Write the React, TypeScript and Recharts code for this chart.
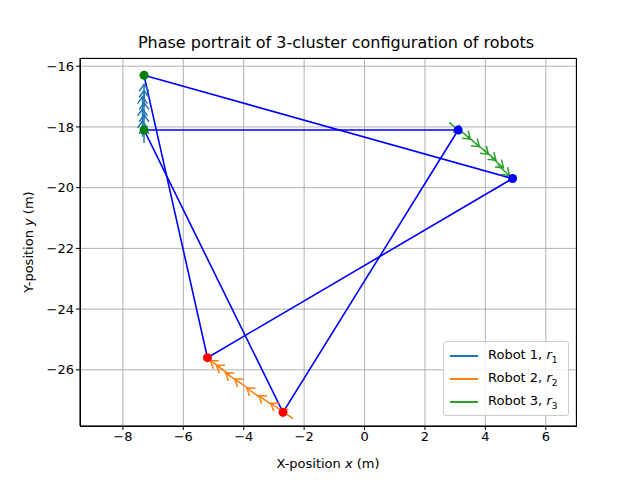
import React from 'react';
import { ComposedChart, Scatter, XAxis, YAxis, CartesianGrid } from 'recharts';

const triangleA = [
  { x: -7.3, y: -16.3 }, { x: 4.9, y: -19.7 }, { x: -5.2, y: -25.6 }, { x: -7.3, y: -16.3 },
];
const triangleB = [
  { x: -7.3, y: -18.1 }, { x: 3.1, y: -18.1 }, { x: -2.7, y: -27.4 }, { x: -7.3, y: -18.1 },
];
const robot1Arrows = [
  { x: -7.3, y: -18.0 }, { x: -7.35, y: -17.8 }, { x: -7.3, y: -17.6 }, { x: -7.35, y: -17.4 },
  { x: -7.3, y: -17.2 }, { x: -7.35, y: -17.0 }, { x: -7.3, y: -16.8 }, { x: -7.3, y: -16.6 },
];
const robot2Arrows = [
  { x: -2.8, y: -27.3 }, { x: -3.1, y: -27.1 }, { x: -3.5, y: -26.85 }, { x: -3.9, y: -26.6 },
  { x: -4.3, y: -26.3 }, { x: -4.6, y: -26.1 }, { x: -4.9, y: -25.85 }, { x: -5.1, y: -25.7 },
];
const robot3Arrows = [
  { x: 3.2, y: -18.2 }, { x: 3.5, y: -18.4 }, { x: 3.8, y: -18.65 }, { x: 4.1, y: -18.9 },
  { x: 4.35, y: -19.1 }, { x: 4.6, y: -19.35 }, { x: 4.8, y: -19.6 },
];
const robot1Dir = [0, 1];
const robot2Dir = [-0.81, 0.58];
const robot3Dir = [0.75, -0.66];
const greenPts = [{ x: -7.3, y: -16.3 }, { x: -7.3, y: -18.1 }];
const redPts = [{ x: -5.2, y: -25.6 }, { x: -2.7, y: -27.4 }];
const bluePts = [{ x: 4.9, y: -19.7 }, { x: 3.1, y: -18.1 }];
const xTicks = [-8, -6, -4, -2, 0, 2, 4, 6];
const yTicks = [-26, -24, -22, -20, -18, -16];

const makeArrow = (color: string, dir: number[]) => (props: any) => {
  const { cx, cy } = props;
  const dx = dir[0], dy = -dir[1];
  const len = 16, head = 7;
  const bx = cx - dx * len, by = cy - dy * len;
  const px = -dy, py = dx;
  const h1x = cx - dx * head + px * head * 0.7, h1y = cy - dy * head + py * head * 0.7;
  const h2x = cx - dx * head - px * head * 0.7, h2y = cy - dy * head - py * head * 0.7;
  return (
    <g stroke={color} strokeWidth={1.5} fill="none">
      <line x1={bx} y1={by} x2={cx} y2={cy} />
      <polyline points={`${h1x},${h1y} ${cx},${cy} ${h2x},${h2y}`} />
    </g>
  );
};

const dot = (color: string) => (props: any) => <circle cx={props.cx} cy={props.cy} r={4.5} fill={color} />;

const legendItems = [
  { color: '#1f77b4', label: 'Robot 1, ', sub: '1' },
  { color: '#ff7f0e', label: 'Robot 2, ', sub: '2' },
  { color: '#2ca02c', label: 'Robot 3, ', sub: '3' },
];

const LegendBox = () => (
  <div style={{ position: 'absolute', left: 443, top: 341, width: 112, border: '1px solid #ccc', borderRadius: 3, background: 'rgba(255,255,255,0.85)', padding: '2px 6px', fontSize: 13, fontFamily: 'DejaVu Sans' }}>
    {legendItems.map((it) => (
      <div key={it.sub} style={{ display: 'flex', alignItems: 'center', height: 23 }}>
        <div style={{ width: 28, height: 2, background: it.color, marginRight: 10 }} />
        <span style={{ whiteSpace: 'nowrap' }}>{it.label}<i>r</i><sub style={{ fontSize: 9 }}>{it.sub}</sub></span>
      </div>
    ))}
  </div>
);

export default function App() {
  const font = { fontFamily: 'DejaVu Sans', fontSize: 13, fill: '#000' };
  return (
    <div style={{ position: 'absolute', left: 0, top: 0, width: 640, height: 480, background: '#fff', fontFamily: 'DejaVu Sans' }}>
      <div style={{ position: 'absolute', top: 33, width: 640, textAlign: 'center', fontSize: 16, paddingLeft: 16 }}>
        Phase portrait of 3-cluster configuration of robots
      </div>
      <ComposedChart width={640} height={480} margin={{ top: 58, right: 64, bottom: 24, left: 40 }}>
        <CartesianGrid stroke="#b0b0b0" horizontal vertical />
        <XAxis type="number" dataKey="x" domain={[-9.42, 7.0]} ticks={xTicks} allowDataOverflow tick={font} tickSize={4} stroke="#000" height={30}
          tickFormatter={(v: number) => (v < 0 ? `\u2212${Math.abs(v)}` : `${v}`)} />
        <YAxis type="number" dataKey="y" domain={[-27.85, -15.73]} ticks={yTicks} allowDataOverflow tick={font} tickSize={4} width={40} stroke="#000"
          tickFormatter={(v: number) => `\u2212${Math.abs(v)}`} />
        <Scatter data={triangleA} line={{ stroke: '#0000ff', strokeWidth: 1.6 }} shape={() => null} isAnimationActive={false} />
        <Scatter data={triangleB} line={{ stroke: '#0000ff', strokeWidth: 1.6 }} shape={() => null} isAnimationActive={false} />
        <Scatter data={robot1Arrows} shape={makeArrow('#1f77b4', robot1Dir)} isAnimationActive={false} />
        <Scatter data={robot2Arrows} shape={makeArrow('#ff7f0e', robot2Dir)} isAnimationActive={false} />
        <Scatter data={robot3Arrows} shape={makeArrow('#2ca02c', robot3Dir)} isAnimationActive={false} />
        <Scatter data={greenPts} shape={dot('green')} isAnimationActive={false} />
        <Scatter data={redPts} shape={dot('red')} isAnimationActive={false} />
        <Scatter data={bluePts} shape={dot('blue')} isAnimationActive={false} />
      </ComposedChart>
      <div style={{ position: 'absolute', left: 80, top: 58, width: 495, height: 367, border: '1px solid #000', pointerEvents: 'none' }} />
      <div style={{ position: 'absolute', left: 80, top: 456, width: 496, textAlign: 'center', fontSize: 13 }}>
        X-position <i>x</i> (m)
      </div>
      <div style={{ position: 'absolute', left: 28, top: 242, width: 0, height: 0 }}>
        <div style={{ position: 'absolute', transform: 'translate(-50%,-50%) rotate(-90deg)', whiteSpace: 'nowrap', fontSize: 13 }}>
          Y-position <i>y</i> (m)
        </div>
      </div>
      <LegendBox />
    </div>
  );
}
